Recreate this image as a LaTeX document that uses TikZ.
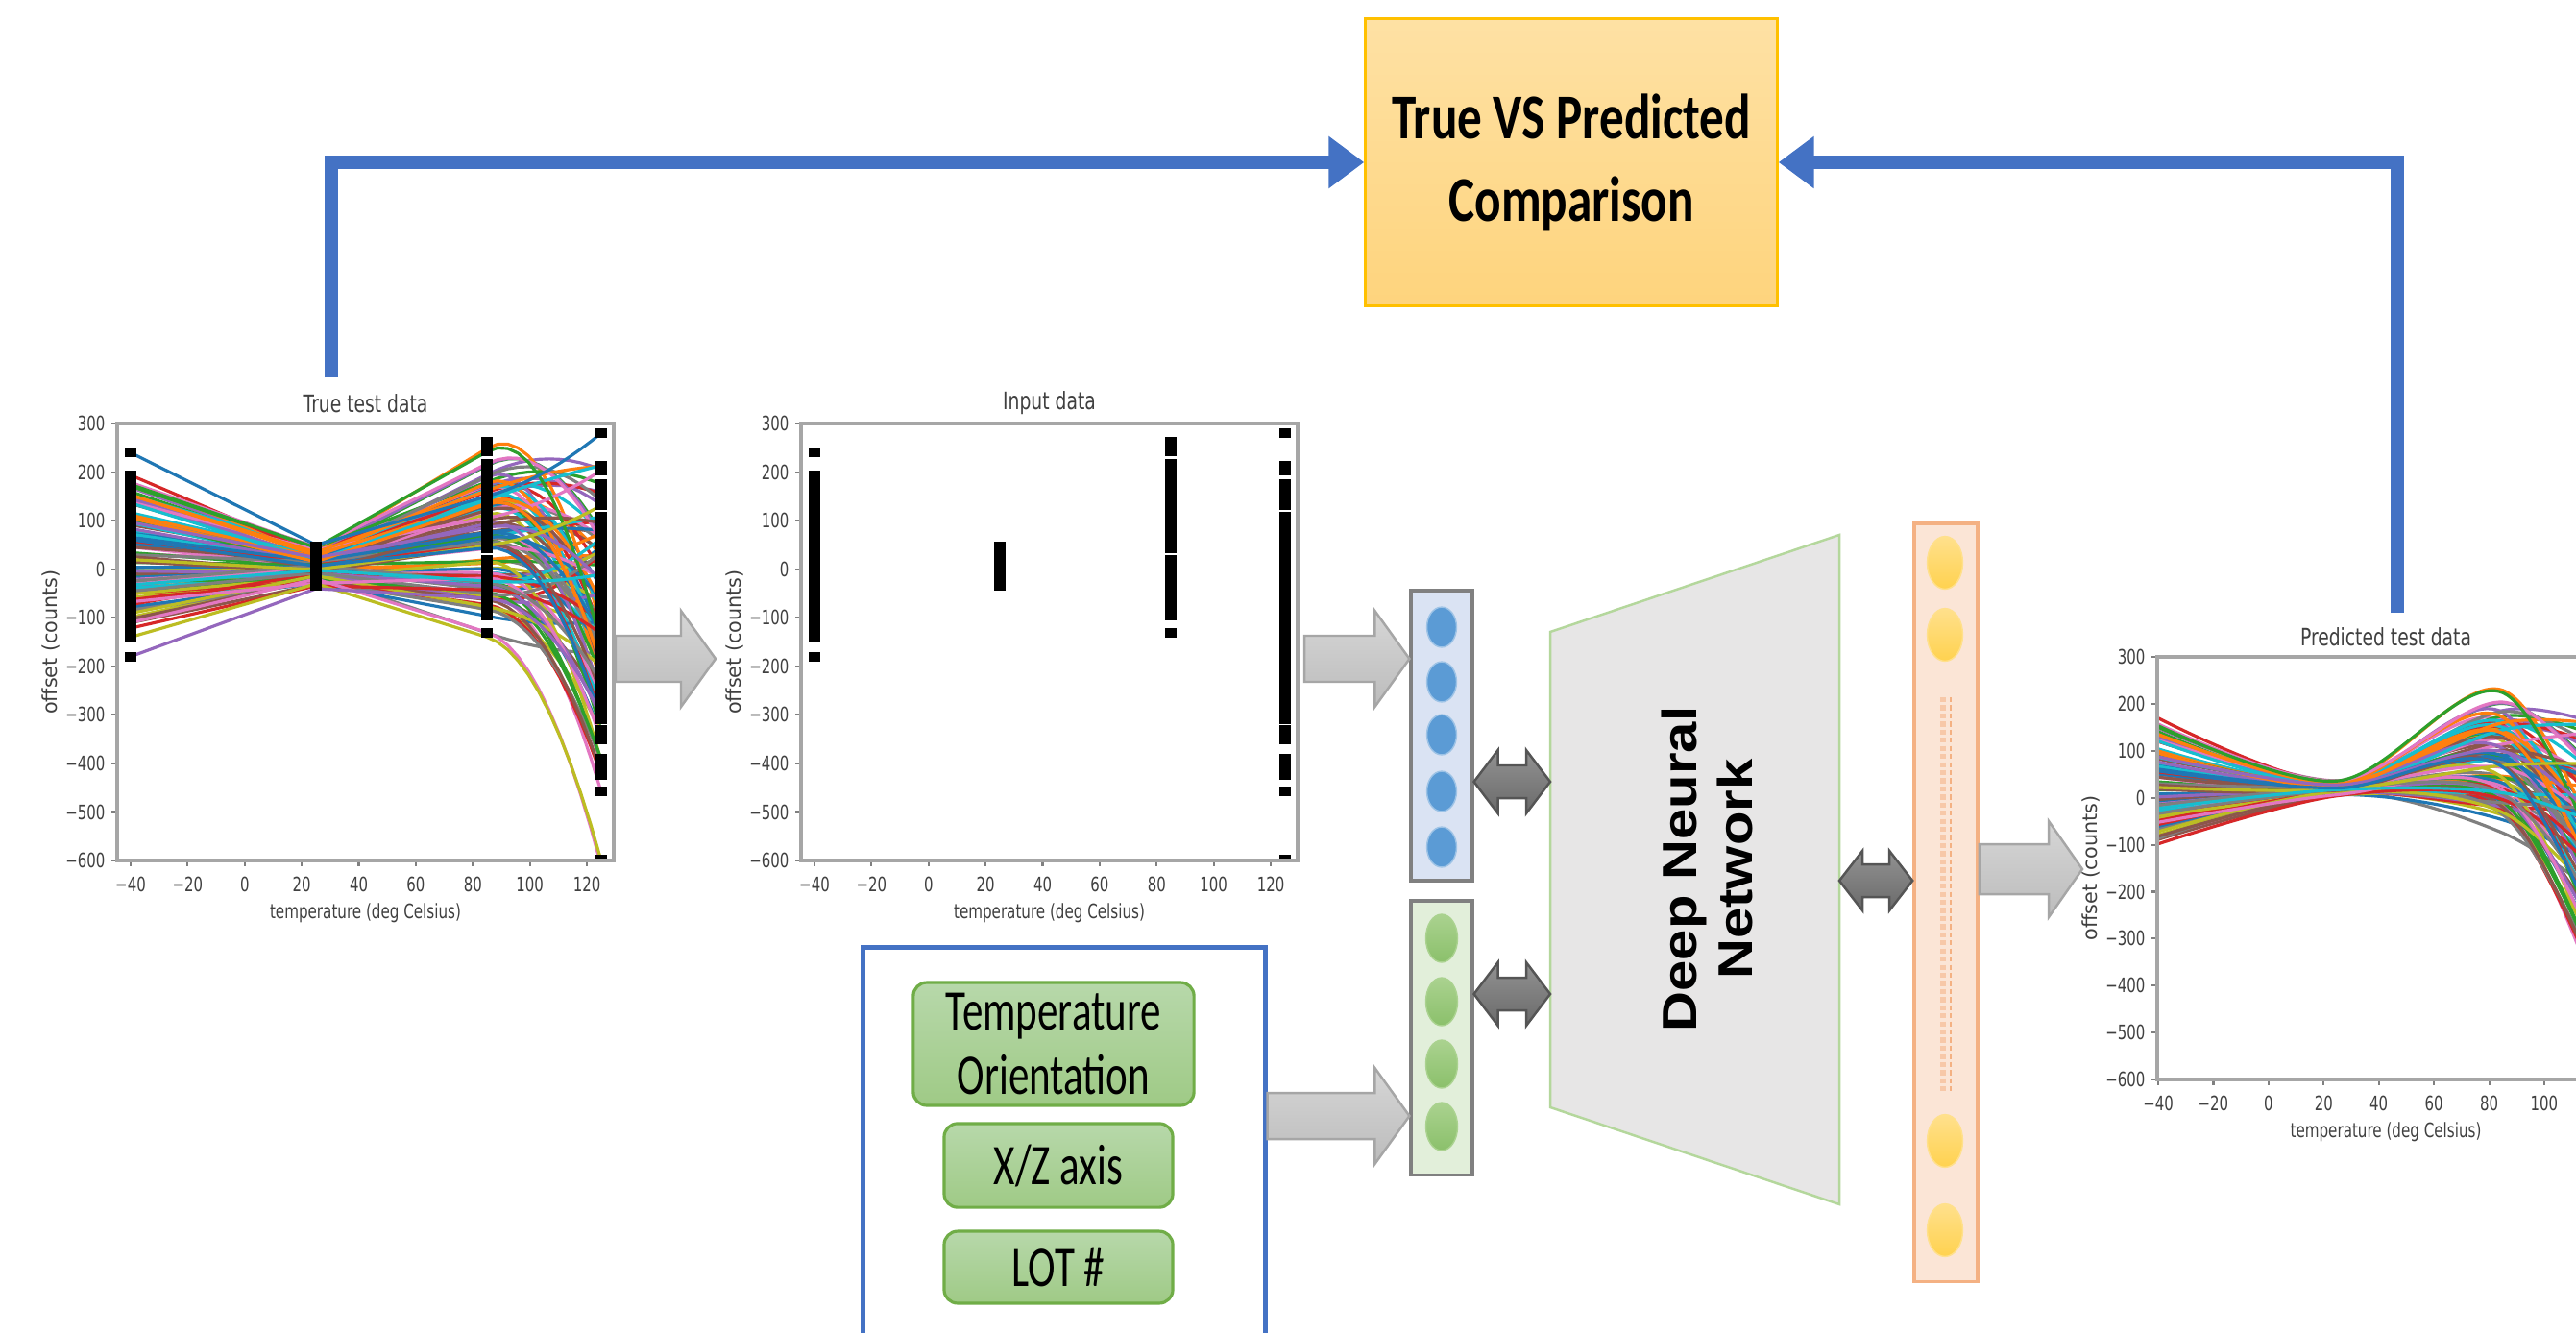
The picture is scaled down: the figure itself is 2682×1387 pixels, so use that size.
\documentclass[tikz,border=0pt]{standalone}
\usepackage{fontspec}
\usepackage{graphicx}
\usetikzlibrary{arrows.meta,calc,shapes.geometric}
\setmainfont{DejaVu Sans}
\newfontfamily\calfont{Carlito}
\newfontfamily\plotfont{DejaVu Sans}
\newfontfamily\dnnfont{Liberation Sans}

% matplotlib tab10 cycle
\definecolor{tab0}{HTML}{1F77B4}
\definecolor{tab1}{HTML}{FF7F0E}
\definecolor{tab2}{HTML}{2CA02C}
\definecolor{tab3}{HTML}{D62728}
\definecolor{tab4}{HTML}{9467BD}
\definecolor{tab5}{HTML}{8C564B}
\definecolor{tab6}{HTML}{E377C2}
\definecolor{tab7}{HTML}{7F7F7F}
\definecolor{tab8}{HTML}{BCBD22}
\definecolor{tab9}{HTML}{17BECF}
% diagram colours
\definecolor{fbBlue}{HTML}{4472C4}
\definecolor{cmpTop}{HTML}{FEE1A4}
\definecolor{cmpBot}{HTML}{FED47D}
\definecolor{cmpEdge}{HTML}{FFC000}
\definecolor{lblTop}{HTML}{B7D8AA}
\definecolor{lblBot}{HTML}{9FCA86}
\definecolor{lblEdge}{HTML}{70AD47}
\definecolor{gTop}{HTML}{D6D6D6}
\definecolor{gBot}{HTML}{BCBCBC}
\definecolor{gEdge}{HTML}{A6A6A6}
\definecolor{dTop}{HTML}{929292}
\definecolor{dBot}{HTML}{6A6A6A}
\definecolor{dEdge}{HTML}{555555}
\definecolor{bcolFill}{HTML}{DAE3F3}
\definecolor{gcolFill}{HTML}{E2EFDA}
\definecolor{ocolFill}{HTML}{FBE5D6}
\definecolor{ocolEdge}{HTML}{F4B183}
\definecolor{bdotFill}{HTML}{5B9BD5}
\definecolor{gdotTop}{HTML}{AAD28F}
\definecolor{gdotBot}{HTML}{8BC06B}
\definecolor{odotTop}{HTML}{FFE08C}
\definecolor{odotBot}{HTML}{FFD24F}
\definecolor{dnnFill}{HTML}{E7E6E6}
\definecolor{dnnEdge}{HTML}{B4D79C}

% horizontally condensed text
\newcommand\sq[2][0.73]{\scalebox{#1}[1]{#2}}
% tick label with a true minus sign
\newcommand\mylab[1]{\ifnum#1<0 \char"2212\relax\number-#1\else#1\fi}

% one synthetic offset curve: values at -40, 25, 85 and 125 deg
\newcommand\curvevals{%
  \pgfmathsetmacro\zz{rand}%
  \pgfmathsetmacro\va{40+150*\zz+25*rand}%
  \pgfmathsetmacro\vb{10+35*\zz+12*rand}%
  \pgfmathsetmacro\vc{65+140*\zz+60*rand}%
  \pgfmathsetmacro\vd{-90+150*\zz+240*rand}}
% measured curve: straight up to 85 deg, then a parabola that keeps the slope at 85
\newcommand\drawtrue[1]{%
  \pgfmathsetmacro\mm{(\vc-\vb)/60}%
  \pgfmathsetmacro\aa{(\vd-\vc-40*\mm)/1600}%
  \draw[curve,#1] (\ox,{\oy+(300-(\va))*\sy}) -- ({\ox+65*\sx},{\oy+(300-(\vb))*\sy})
    -- plot[domain=85:125,samples=12,variable=\tk]
    ({\ox+(\tk+40)*\sx},{\oy+(300-(\vc+\mm*(\tk-85)+\aa*(\tk-85)*(\tk-85)))*\sy});}
% network output: smooth curve through the four values
\newcommand\drawpred[1]{%
  \draw[curve,#1] plot[smooth,tension=0.55] coordinates {(\ox,{\oy+(300-(\va))*\sy})
    ({\ox+65*\sx},{\oy+(300-(\vb))*\sy}) ({\ox+125*\sx},{\oy+(300-(\vc))*\sy})
    ({\ox+165*\sx},{\oy+(300-(\vd))*\sy})};}
% scatter mark of the measured points
\newcommand\mk[3]{\fill[black] ({#1+(#2+40)*2.969-6},{441+(300-(#3))*0.5056-5}) rectangle ++(12,10);}

% axes, ticks and labels of one plot
\newcommand\drawaxes[2][120]{%
  \foreach \yv in {300,200,...,-600}{%
    \draw[tickm] (\fl,{\oy+(300-(\yv))*\sy}) -- ++(-6,0);
    \node[ticklab,anchor=east] at ({\fl-12},{\oy+(300-(\yv))*\sy}) {\sq[0.72]{\mylab{\yv}}};}
  \foreach \tx in {-40,-20,...,#1}{%
    \draw[tickm] ({\ox+(\tx+40)*\sx},\fb) -- ++(0,6);
    \node[ticklab] at ({\ox+(\tx+40)*\sx},{\fb+25}) {\sq[0.72]{\mylab{\tx}}};}
  \draw[spine] (\fl,\oy) rectangle (\fr,\fb);
  \node[plottitle] at ({(\fl+\fr)/2},{\oy-21}) {\sq[0.75]{#2}};
  \node[axlab] at ({(\fl+\fr)/2},{\fb+55}) {\sq[0.73]{temperature (deg Celsius)}};
  \node[axlab,rotate=90] at ({\fl-69},{(\oy+\fb)/2}) {offset (counts)};}

% horizontal block arrow: tail, tip, shaft half height, head half height, head length
\newcommand\blockarrow[5]{%
  \path[garrow] ($(#1)+(0,-#3)$) -- ($(#2)+(-#5,-#3)$) -- ($(#2)+(-#5,-#4)$) -- (#2)
    -- ($(#2)+(-#5,#4)$) -- ($(#2)+(-#5,#3)$) -- ($(#1)+(0,#3)$) -- cycle;}
% two-headed block arrow: left tip, right tip, shaft half, head half, head length
\newcommand\dblarrow[5]{%
  \path[darrow] (#1) -- ($(#1)+(#5,-#4)$) -- ($(#1)+(#5,-#3)$) -- ($(#2)+(-#5,-#3)$)
    -- ($(#2)+(-#5,-#4)$) -- (#2) -- ($(#2)+(-#5,#4)$) -- ($(#2)+(-#5,#3)$)
    -- ($(#1)+(#5,#3)$) -- ($(#1)+(#5,#4)$) -- cycle;}

\tikzset{
  curve/.style={line width=0.9pt, line join=round},
  spine/.style={draw=black!35, line width=1.1pt},
  tickm/.style={draw=black!50, line width=0.6pt},
  ticklab/.style={font=\plotfont\fontsize{5.9}{7}\selectfont, text=black!75, inner sep=0pt},
  axlab/.style={font=\plotfont\fontsize{5.9}{7}\selectfont, text=black!75, inner sep=0pt},
  plottitle/.style={font=\plotfont\fontsize{7.1}{8.5}\selectfont, text=black!75, inner sep=0pt},
  feedback/.style={draw=fbBlue, line width=4.2pt, line join=miter,
    -{Triangle[length=10.5pt,width=14.8pt]}},
  garrow/.style={top color=gTop, bottom color=gBot, draw=gEdge, line width=0.7pt},
  darrow/.style={top color=dTop, bottom color=dBot, draw=dEdge, line width=0.7pt},
  cmpbox/.style={draw=cmpEdge, line width=0.9pt, top color=cmpTop, bottom color=cmpBot,
    minimum width=121.8pt, minimum height=84.8pt, inner sep=0pt, align=center,
    font=\calfont\bfseries\fontsize{18.9}{24.5}\selectfont},
  lbl/.style={rounded corners=4pt, draw=lblEdge, line width=0.9pt, top color=lblTop,
    bottom color=lblBot, inner sep=0pt, align=center,
    font=\calfont\fontsize{17}{18.8}\selectfont},
  colbox/.style={draw=black!50, line width=0.9pt, inner sep=0pt},
  bdot/.style={ellipse, inner sep=0pt, minimum width=8.8pt, minimum height=11.9pt,
    fill=bdotFill, draw=bdotFill!60!white, line width=0.4pt},
  gdot/.style={ellipse, inner sep=0pt, minimum width=9.4pt, minimum height=14.2pt,
    top color=gdotTop, bottom color=gdotBot, draw=gdotTop, line width=0.4pt},
  odot/.style={ellipse, inner sep=0pt, minimum width=10.5pt, minimum height=15.6pt,
    top color=odotTop, bottom color=odotBot, draw=odotTop, line width=0.4pt},
}

\begin{document}
\begin{tikzpicture}[x=0.01cm,y=-0.01cm]
\useasboundingbox (0,0) rectangle (2682,1387);
\fill[white] (0,0) rectangle (2682,1387);
\begin{scope}
\clip (0,0) rectangle (2682,1387);

% ---------------- True test data ----------------
\def\ox{136}\def\sx{2.969}\def\oy{441}\def\sy{0.5056}
\def\fl{122}\def\fr{639}\def\fb{896}
\begin{scope}
  \clip (\fl,\oy) rectangle (\fr,\fb);
  \pgfmathsetseed{11}
  \foreach \i in {1,...,100}{\curvevals\pgfmathtruncatemacro\ci{mod(\i,10)}\drawtrue{tab\ci}}
  {\def\va{-110}\def\vb{-20}\def\vc{-130}\def\vd{-610}\drawtrue{tab6}}
  {\def\va{-140}\def\vb{-30}\def\vc{-140}\def\vd{-600}\drawtrue{tab8}}
  {\def\va{240}\def\vb{50}\def\vc{150}\def\vd{280}\drawtrue{tab0}}
  {\def\va{-180}\def\vb{-40}\def\vc{-60}\def\vd{-300}\drawtrue{tab4}}
  % measured points
  \pgfmathsetseed{11}
  \foreach \i in {1,...,100}{\curvevals
    \mk{136}{-40}{\va}\mk{136}{25}{\vb}\mk{136}{85}{\vc}\mk{136}{125}{\vd}}
  \mk{136}{125}{-597}\mk{136}{-40}{-180}\mk{136}{-40}{-140}\mk{136}{-40}{240}
  \mk{136}{125}{280}\mk{136}{85}{262}
\end{scope}
\drawaxes{True test data}

% ---------------- Input data ----------------
\def\ox{848}\def\fl{834}\def\fr{1351}
\begin{scope}
  \clip (\fl,\oy) rectangle (\fr,\fb);
  \pgfmathsetseed{11}
  \foreach \i in {1,...,100}{\curvevals
    \mk{848}{-40}{\va}\mk{848}{25}{\vb}\mk{848}{85}{\vc}\mk{848}{125}{\vd}}
  \mk{848}{125}{-597}\mk{848}{-40}{-180}\mk{848}{-40}{-140}\mk{848}{-40}{240}
  \mk{848}{125}{280}\mk{848}{85}{262}
\end{scope}
\drawaxes{Input data}

% ---------------- Predicted test data ----------------
\def\ox{2247}\def\sx{2.871}\def\oy{684}\def\sy{0.4889}
\def\fl{2246}\def\fr{2722}\def\fb{1124}
\begin{scope}
  \clip (\fl,\oy) rectangle (\fr,\fb);
  \pgfmathsetseed{11}
  \foreach \i in {1,...,100}{\curvevals
    \pgfmathsetmacro\va{0.85*\va+5}\pgfmathsetmacro\vb{0.4*\vb+18}%
    \pgfmathsetmacro\vc{0.8*\vc+30}\pgfmathsetmacro\vd{\vd-60}%
    \pgfmathtruncatemacro\ci{mod(\i,10)}\drawpred{tab\ci}}
\end{scope}
\drawaxes[100]{Predicted test data}

% ---------------- comparison and feedback ----------------
\node[cmpbox] (cmp) at (1636,169) {\sq[0.77]{True VS Predicted}\\\sq[0.77]{Comparison}};
\coordinate (tpfb) at (345,393);
\coordinate (ppfb) at (2496,638);
\draw[feedback] (tpfb) |- (cmp.west);
\draw[feedback] (ppfb) |- (cmp.east);

% ---------------- auxiliary inputs ----------------
\node[draw=fbBlue, line width=1.4pt, minimum width=118.9pt, minimum height=123.2pt,
  inner sep=0pt] (inbox) at (1108,1203.5) {};
\node[lbl, minimum width=83.1pt, minimum height=36.4pt] (ltemp) at (1097,1087)
  {\sq[0.72]{Temperature}\\\sq[0.72]{Orientation}};
\node[lbl, minimum width=67.7pt, minimum height=24.8pt] (lxz) at (1102,1213.5)
  {\sq[0.72]{X/Z axis}};
\node[lbl, minimum width=67.7pt, minimum height=21.3pt] (llot) at (1102,1319.5)
  {\sq[0.72]{LOT \#}};

% ---------------- input layers ----------------
\node[colbox, fill=bcolFill, minimum width=18.2pt, minimum height=85.9pt] (bluecol) at (1501,766) {};
\foreach \yy [count=\k] in {653,710,765,824,882} \node[bdot] (b\k) at (1501,\yy) {};
\node[colbox, fill=gcolFill, minimum width=18.2pt, minimum height=81.1pt] (greencol) at (1501,1080.5) {};
\foreach \yy [count=\k] in {977,1043,1108,1173} \node[gdot] (g\k) at (1501,\yy) {};

% ---------------- network ----------------
\coordinate (dnnTL) at (1614,658);
\coordinate (dnnTR) at (1915,557);
\coordinate (dnnBR) at (1915,1254);
\coordinate (dnnBL) at (1614,1153);
\path[fill=dnnFill, draw=dnnEdge, line width=0.7pt] (dnnTL) -- (dnnTR) -- (dnnBR) -- (dnnBL) -- cycle;
\node[font=\dnnfont\bfseries\fontsize{16.5}{16.5}\selectfont, rotate=90, align=center]
  (dnn) at (1777,905) {\scalebox{1}[0.87]{Deep Neural}\\\scalebox{1}[0.87]{Network}};

% ---------------- output layer ----------------
\node[inner sep=0pt, fill=ocolFill, draw=ocolEdge, line width=1pt, minimum width=18.8pt,
  minimum height=224.5pt] (orangecol) at (2026,939.5) {};
\foreach \yy [count=\k] in {586,661,1188,1281} \node[odot] (o\k) at (2025,\yy) {};
\draw[ocolEdge!70, line width=1.5pt, dash pattern=on 1.5pt off 0.9pt] (2023,726) -- (2023,1137);
\draw[ocolEdge, line width=0.8pt, dash pattern=on 1.5pt off 0.9pt] (2031,726) -- (2031,1137);

% ---------------- block arrows ----------------
\coordinate (a1s) at (641,686);
\coordinate (a1e) at (745,686);
\blockarrow{a1s}{a1e}{24}{50}{36}
\coordinate (a2s) at (1358,686);
\coordinate (a2e) at (bluecol.west |- a2s);
\blockarrow{a2s}{a2e}{24}{50}{36}
\coordinate (a3s) at (inbox.east |- 0,1162);
\coordinate (a3e) at (greencol.west |- a3s);
\blockarrow{a3s}{a3e}{24}{50}{36}
\coordinate (a4s) at (orangecol.east |- 0,905);
\coordinate (a4e) at (2168,905);
\blockarrow{a4s}{a4e}{26}{50}{35}

% ---------------- two-way links ----------------
\coordinate (d1l) at (bluecol.east |- 0,814);
\coordinate (d1r) at (dnnTL |- d1l);
\dblarrow{d1l}{d1r}{17}{33}{25}
\coordinate (d2l) at (greencol.east |- 0,1035);
\coordinate (d2r) at (dnnTL |- d2l);
\dblarrow{d2l}{d2r}{17}{33}{25}
\coordinate (d3l) at (dnnTR |- 0,917);
\coordinate (d3r) at (orangecol.west |- d3l);
\dblarrow{d3l}{d3r}{17}{31}{24}
\end{scope}
\end{tikzpicture}
\end{document}
